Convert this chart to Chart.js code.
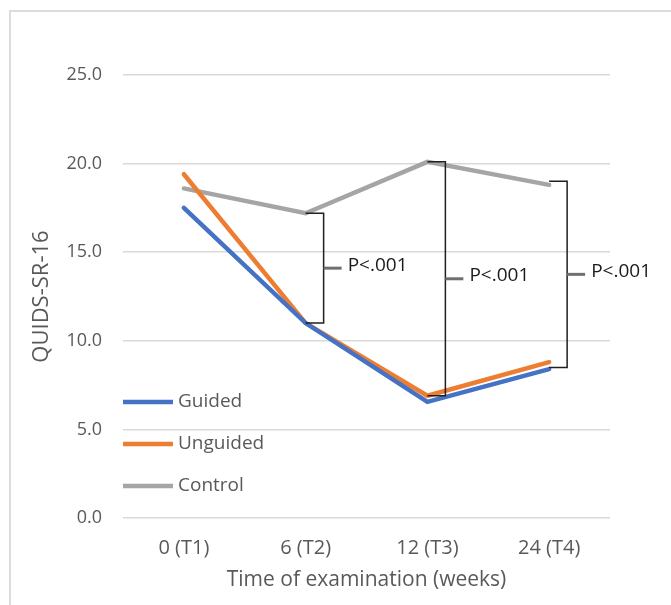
<!DOCTYPE html>
<html>
<head>
<meta charset="utf-8">
<script src="https://cdn.jsdelivr.net/npm/chart.js@4.4.1/dist/chart.umd.min.js"></script>
<style>
  html, body { margin: 0; padding: 0; background: #fff; overflow: hidden; }
  #frame {
    position: absolute; left: 9px; top: 10px; width: 700px; height: 700px;
    border: 2px solid #dcdcdc; box-sizing: border-box;
  }
  #wrap { position: absolute; left: 0; top: 0; width: 671px; height: 605px; }
</style>
</head>
<body>
<div id="frame"></div>
<div id="wrap"><canvas id="chart" width="671" height="605"></canvas></div>
<script>
const timePoints = ["0 (T1)", "6 (T2)", "12 (T3)", "24 (T4)"];
const guided = [17.5, 11.0, 6.55, 8.4];
const unguided = [19.4, 11.0, 6.9, 8.8];
const control = [18.6, 17.2, 20.1, 18.8];

// significance brackets: at which time point, from which value to which
const bracketAt = [1, 2, 3];
const bracketTop = [17.2, 20.1, 19.0];
const bracketBottom = [11.0, 6.9, 8.5];
const bracketLabels = ["P<.001", "P<.001", "P<.001"];

const FONT = "'Open Sans', sans-serif";
const TEXT = "#595959";

const bracketPlugin = {
  id: "brackets",
  afterDatasetsDraw(chart) {
    const { ctx, scales } = chart;
    const x = scales.x;
    const y = scales.y;
    ctx.save();
    bracketAt.forEach((idx, i) => {
      const px = x.getPixelForValue(idx);
      const vx = px + 18;
      const top = y.getPixelForValue(bracketTop[i]);
      const bot = y.getPixelForValue(bracketBottom[i]);
      const mid = (top + bot) / 2;
      ctx.strokeStyle = "#1f1f1f";
      ctx.lineWidth = 1.5;
      ctx.beginPath();
      ctx.moveTo(px, top);
      ctx.lineTo(vx, top);
      ctx.lineTo(vx, bot);
      ctx.lineTo(px, bot);
      ctx.stroke();
      ctx.strokeStyle = "#707070";
      ctx.lineWidth = 3;
      ctx.beginPath();
      ctx.moveTo(vx, mid);
      ctx.lineTo(vx + 18, mid);
      ctx.stroke();
      ctx.fillStyle = "#1a1a1a";
      ctx.font = "19px " + FONT;
      ctx.textAlign = "left";
      ctx.textBaseline = "middle";
      ctx.fillText(bracketLabels[i], vx + 24, mid - 3);
    });
    ctx.restore();
  }
};

const legendPlugin = {
  id: "insideLegend",
  afterDraw(chart) {
    const { ctx, chartArea } = chart;
    ctx.save();
    chart.data.datasets.forEach((ds, i) => {
      const yy = 402 + i * 42;
      ctx.strokeStyle = ds.borderColor;
      ctx.lineWidth = 4.5;
      ctx.beginPath();
      ctx.moveTo(chartArea.left, yy);
      ctx.lineTo(chartArea.left + 50, yy);
      ctx.stroke();
      ctx.fillStyle = TEXT;
      ctx.font = "19px " + FONT;
      ctx.textAlign = "left";
      ctx.textBaseline = "middle";
      ctx.fillText(ds.label, chartArea.left + 55, yy);
    });
    ctx.restore();
  }
};

new Chart(document.getElementById("chart"), {
  type: "line",
  data: {
    labels: timePoints,
    datasets: [
      { label: "Guided", data: guided, borderColor: "#4472c4" },
      { label: "Unguided", data: unguided, borderColor: "#ed7d31" },
      { label: "Control", data: control, borderColor: "#a5a5a5" }
    ].map((d) => ({ ...d, borderWidth: 4.5, pointRadius: 0, tension: 0, fill: false, borderCapStyle: "round" }))
  },
  options: {
    responsive: false,
    animation: false,
    layout: { padding: { top: 75, right: 61, left: 0, bottom: 0 } },
    plugins: { legend: { display: false }, tooltip: { enabled: false } },
    scales: {
      x: {
        offset: true,
        grid: { display: false },
        border: { display: false },
        ticks: { color: TEXT, font: { family: FONT, size: 20 }, padding: 10 },
        title: {
          display: true, text: "Time of examination (weeks)", color: TEXT,
          font: { family: FONT, size: 21 }, padding: { top: 0, bottom: 12 }
        },
        afterFit(scale) { scale.height = 87; }
      },
      y: {
        min: 0, max: 25,
        grid: { color: "#d9d9d9", lineWidth: 1.5, drawTicks: false },
        border: { display: false },
        ticks: {
          stepSize: 5, color: TEXT, padding: 21,
          font: { family: FONT, size: 18 },
          callback: (v) => v.toFixed(1)
        },
        title: {
          display: true, text: "QUIDS-SR-16", color: TEXT,
          font: { family: FONT, size: 22 }, padding: { top: 29, bottom: 0 }
        },
        afterFit(scale) { scale.width = 123; }
      }
    }
  },
  plugins: [bracketPlugin, legendPlugin]
});
</script>
</body>
</html>
